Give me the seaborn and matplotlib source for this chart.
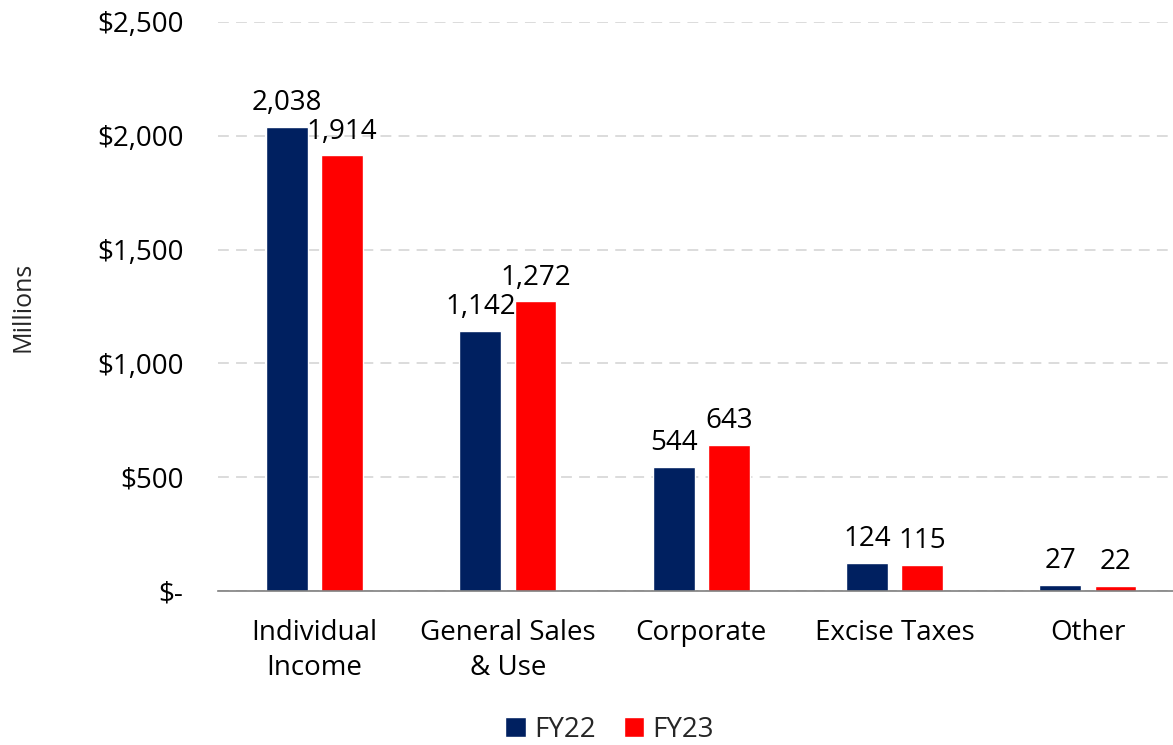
import pandas as pd
import matplotlib
matplotlib.use("Agg")
import matplotlib.pyplot as plt
import seaborn as sns
from matplotlib.ticker import FuncFormatter

# Revenue by source, millions of dollars
categories = ["Individual\nIncome", "General Sales\n& Use", "Corporate", "Excise Taxes", "Other"]
fy22 = [2038, 1142, 544, 124, 27]
fy23 = [1914, 1272, 643, 115, 22]
years = ["FY22", "FY23"]
colors = ["#002060", "#FF0000"]

df = pd.DataFrame({
    "category": categories * 2,
    "year": [years[0]] * len(categories) + [years[1]] * len(categories),
    "value": fy22 + fy23,
})

sns.set_theme(style="white")
plt.rcParams["font.family"] = ["Open Sans", "DejaVu Sans"]

fig = plt.figure(figsize=(11.73, 7.45), dpi=100)
ax = fig.add_axes([218 / 1173, 1 - 591 / 745, (1173 - 218) / 1173, (591 - 22) / 745])

sns.barplot(data=df, x="category", y="value", hue="year", palette=colors,
            width=0.57, gap=0.24, ax=ax, saturation=1)

for cont in ax.containers:
    ax.bar_label(cont, labels=[f"{v:,.0f}" for v in cont.datavalues],
                 fontsize=20, padding=7, color="black")

ax.set_ylim(0, 2500)
ax.set_xlim(-0.5, 4.44)
ax.set_yticks([0, 500, 1000, 1500, 2000, 2500])
ax.yaxis.set_major_formatter(FuncFormatter(lambda v, p: "$-" if v == 0 else f"${v:,.0f}"))
ax.tick_params(axis="both", length=0, labelsize=20, colors="black")
ax.tick_params(axis="y", pad=25)
ax.tick_params(axis="x", pad=20)
for t in ax.get_xticklabels():
    t.set_linespacing(1.35)
ax.set_xlabel("")
ax.set_ylabel("Millions", fontsize=18, labelpad=44)

ax.yaxis.grid(True, linestyle=(0, (6, 4)), color="#D9D9D9", linewidth=1.3)
ax.set_axisbelow(True)
for s in ["left", "right", "top"]:
    ax.spines[s].set_visible(False)
ax.spines["bottom"].set_color("#7F7F7F")
ax.spines["bottom"].set_linewidth(1.2)

leg = ax.legend(loc="center", bbox_to_anchor=(0.41, -0.244), ncol=2, frameon=False,
                fontsize=20, handlelength=0.75, handleheight=0.75, handletextpad=0.3,
                columnspacing=1.0)

fig.savefig("out.png", dpi=100)
